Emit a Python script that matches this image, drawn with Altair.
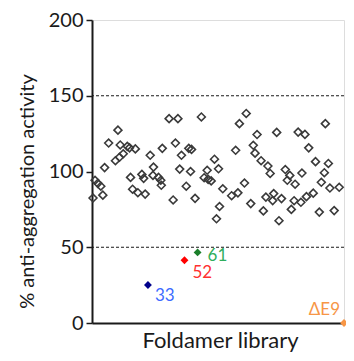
import altair as alt
import pandas as pd

# Foldamer library screening values (x = library position, y = % activity)
lib_x = [0.4, 1.2, 2.3, 3.5, 4.3, 5.0, 6.6, 10.3, 9.3, 10.9, 12.4, 11.2, 14.0, 14.9, 17.2,
         15.3, 16.1, 18.2, 19.8, 20.5, 21.1, 23.1, 24.4, 24.2, 26.4, 27.3, 27.5, 27.9, 30.6,
         34.1, 43.4, 33.1, 35.5, 38.4, 39.5, 34.8, 39.1, 37.4, 32.2, 40.9, 44.5, 45.7, 46.1,
         47.3, 48.6, 50.2, 50.6, 49.4, 51.9, 55.4, 57.9, 57.0, 58.5, 61.2, 65.5, 64.0, 64.7,
         67.1, 69.8, 70.7, 60.5, 63.0, 69.0, 72.1, 68.0, 73.3, 74.2, 75.2, 76.7, 78.5, 77.5,
         80.6, 81.8, 84.5, 86.0, 83.3, 80.2, 82.9, 85.1, 87.8, 79.1, 88.7, 92.6, 93.8, 92.2,
         91.0, 94.4, 98.1, 90.2, 96.1, 71.7]
lib_y = [82.5, 94.2, 92.2, 90.3, 84.4, 102.6, 118.8, 127.3, 107.1, 109.4, 111.7, 117.5, 116.6,
         115.6, 114.9, 96.1, 88.3, 86.0, 98.1, 95.5, 85.1, 110.7, 102.9, 97.4, 96.1, 94.2, 90.9,
         115.3, 134.9, 134.9, 136.0, 118.8, 110.7, 115.3, 114.6, 101.6, 100.0, 90.3, 81.2, 82.3,
         95.9, 100.8, 94.8, 93.8, 108.1, 101.8, 76.9, 68.8, 88.6, 84.0, 85.9, 114.0, 131.6,
         138.3, 124.4, 117.3, 112.1, 107.1, 103.6, 98.7, 92.4, 78.8, 83.1, 85.4, 74.0, 125.8,
         67.5, 82.1, 101.3, 97.4, 94.2, 91.6, 126.0, 124.5, 115.6, 99.0, 80.7, 79.7, 83.4, 85.7,
         75.0, 106.5, 131.6, 105.3, 99.2, 92.9, 89.1, 89.6, 73.2, 74.2, 80.8]

hit_labels = ["33", "52", "61", "ΔE9"]
hit_x = [22.2, 36.7, 41.9, 100.0]
hit_y = [25.1, 41.4, 46.6, 0.0]
hit_colors = ["#00008b", "#ff0000", "#1a7f2a", "#f79646"]
label_colors = ["#3d6bff", "#ff3030", "#2fae5c", "#f79646"]

thresholds = [50, 150]
y_ticks = [0, 50, 100, 150, 200]

FONT = "Lato"
W, H = 252, 303

lib_df = pd.DataFrame({"x": lib_x, "y": lib_y})
thr_df = pd.DataFrame({"y": thresholds})

xscale = alt.Scale(domain=[0, 100], nice=False, zero=False)
yscale = alt.Scale(domain=[0, 200], nice=False)

base_x = alt.X("x:Q", scale=xscale,
               axis=alt.Axis(title="Foldamer library", ticks=False, labels=False, grid=False,
                             domainColor="#1a1a1a", domainWidth=2,
                             titleFont=FONT, titleFontSize=22, titleFontWeight="normal",
                             titleColor="#1a1a1a", titleX=W / 2 + 2, titleY=24,
                             titleAlign="center", titleBaseline="alphabetic"))
base_y = alt.Y("y:Q", scale=yscale,
               axis=alt.Axis(title="% anti-aggregation activity", values=y_ticks, grid=False,
                             domainColor="#1a1a1a", domainWidth=2, tickColor="#1a1a1a",
                             tickWidth=1.5, tickSize=6, labelPadding=3,
                             labelFont=FONT, labelFontSize=20, labelColor="#1a1a1a",
                             titleFont=FONT, titleFontSize=20, titleFontWeight="normal",
                             titleColor="#1a1a1a", titleAngle=270, titleX=-65, titleY=171,
                             titleAlign="center", titleBaseline="middle"))

rules = alt.Chart(thr_df).mark_rule(color="#1a1a1a", strokeWidth=1, strokeDash=[3, 2]).encode(
    y=alt.Y("y:Q", scale=yscale)
)

lib_pts = alt.Chart(lib_df).mark_point(
    shape="diamond", size=62, filled=False, stroke="#3a3a3a", strokeWidth=1.6, opacity=1
).encode(x=base_x, y=base_y)

layers = [rules, lib_pts]

offsets = [(7, 16, "left"), (8, 18, "left"), (10, 9, "left"), (-4, -8, "right")]
for lab, hx, hy, c, lc, (dx, dy, al) in zip(hit_labels, hit_x, hit_y, hit_colors, label_colors, offsets):
    d = pd.DataFrame({"x": [hx], "y": [hy], "label": [lab]})
    layers.append(
        alt.Chart(d).mark_point(shape="diamond", size=62, filled=True, color=c, opacity=1)
        .encode(x=alt.X("x:Q", scale=xscale), y=alt.Y("y:Q", scale=yscale))
    )
    layers.append(
        alt.Chart(d).mark_text(font=FONT, fontSize=17, color=lc, dx=dx, dy=dy, align=al,
                               baseline="alphabetic")
        .encode(x=alt.X("x:Q", scale=xscale), y=alt.Y("y:Q", scale=yscale), text="label:N")
    )

chart = alt.layer(*layers).properties(
    width=W, height=H,
    autosize=alt.AutoSizeParams(type="none"),
    padding={"left": 84, "top": 12, "right": 2, "bottom": 30},
).configure_view(stroke=None).configure(background="white")

chart.save("out.html", embed_options={"renderer": "svg", "actions": False})
